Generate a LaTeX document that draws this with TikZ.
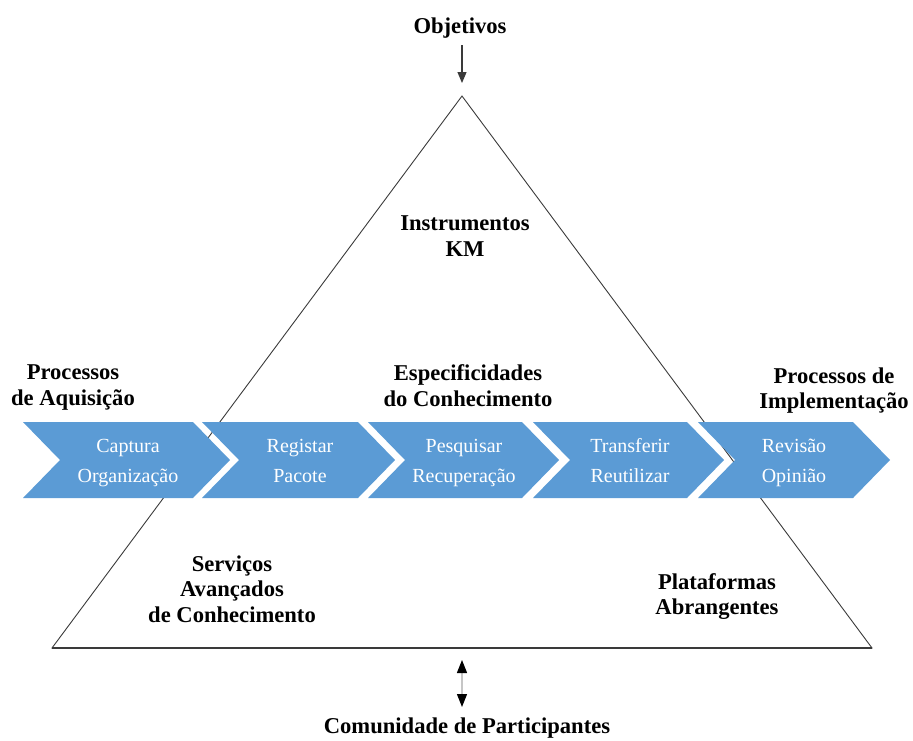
\documentclass[tikz,border=0pt]{standalone}
\usepackage{fontspec}
\setmainfont{Liberation Serif}
\usetikzlibrary{arrows.meta}
\definecolor{chevblue}{HTML}{5B9BD5}
\definecolor{edgegray}{HTML}{3A3A3A}
\newcommand{\ls}{\rule[-0.28em]{0pt}{1.0em}}
\tikzset{
  label/.style={font=\bfseries\fontsize{22.6}{25.5}\selectfont, align=center, inner sep=0pt, yshift=-4pt},
  chevtext/.style={font=\fontsize{20}{30}\selectfont, text=white, align=center, inner sep=0pt, yshift=-3pt},
  chevron/.style={fill=chevblue, draw=none},
  pyramid/.style={draw=edgegray, line width=0.9pt},
  flow/.style={draw=edgegray, line width=1.2pt, -{Triangle[width=9pt,length=11pt]}},
  both/.style={draw=gray!45, line width=1.2pt, {Triangle[width=10pt,length=13pt,fill=black,color=black]}-{Triangle[width=10pt,length=13pt,fill=black,color=black]}}
}
\begin{document}
\begin{tikzpicture}[x=1pt,y=-1pt]
  \useasboundingbox (0,0) rectangle (913,740);

  % pyramid
  \coordinate (apex) at (462,96);
  \coordinate (bl) at (52,648);
  \coordinate (br) at (872,648);
  \draw[pyramid] (apex) -- (bl) -- (br) -- cycle;
  \draw[edgegray, line width=1.6pt] (bl) -- (br);

  % process chevrons
  \foreach \xl/\xr in {23/193, 202/358, 368/522, 533/687, 698/853}{
    \fill[chevron] (\xl,422) -- (\xr,422) -- (\xr+37,460) -- (\xr,498)
      -- (\xl,498) -- (\xl+37,460) -- cycle;
  }
  \node[chevtext] (c1) at (128,460) {\ls Captura\\\ls Organização};
  \node[chevtext] (c2) at (300,460) {\ls Registar\\\ls Pacote};
  \node[chevtext] (c3) at (464,460) {\ls Pesquisar\\\ls Recuperação};
  \node[chevtext] (c4) at (630,460) {\ls Transferir\\\ls Reutilizar};
  \node[chevtext] (c5) at (794,460) {\ls Revisão\\\ls Opinião};

  % labels
  \node[label] (obj) at (460,25) {\ls Objetivos};
  \node[label] (inst) at (465,234.5) {\ls Instrumentos\\\ls KM};
  \node[label] (acq) at (73,383.5) {\ls Processos\\\ls de Aquisição};
  \node[label] (esp) at (468,384.5) {\ls Especificidades\\\ls do Conhecimento};
  \node[label] (impl) at (834,387) {\ls Processos de\\\ls Implementação};
  \node[label] (serv) at (232,588) {\ls Serviços\\\ls Avançados\\\ls de Conhecimento};
  \node[label] (plat) at (717,593) {\ls Plataformas\\\ls Abrangentes};
  \node[label, yshift=4pt] (com) at (467,728) {Comunidade de Participantes};

  % arrows
  \coordinate (objend) at (462,83);
  \coordinate (objstart) at (462,45);
  \draw[flow] (objstart) -- (objend);
  \coordinate (up) at (462,660);
  \coordinate (down) at (462,707);
  \draw[both] (up) -- (down);
\end{tikzpicture}
\end{document}
